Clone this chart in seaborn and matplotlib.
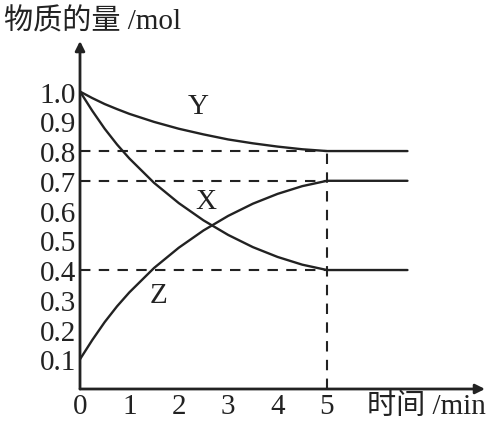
import numpy as np
import pandas as pd
import matplotlib
matplotlib.use('Agg')
import matplotlib.pyplot as plt
import seaborn as sns

# data (amount of substance, mol)
time_min = [0, 0.25, 0.5, 0.75, 1, 1.5, 2, 2.5, 3, 3.5, 4, 4.5, 5, 6.63]
y_mol = [1.0, 0.978, 0.958, 0.941, 0.925, 0.898, 0.875, 0.856, 0.839, 0.826, 0.815, 0.806, 0.80, 0.80]
x_mol = [1.0, 0.935, 0.875, 0.822, 0.775, 0.693, 0.625, 0.567, 0.518, 0.477, 0.444, 0.418, 0.40, 0.40]
z_mol = [0.1, 0.165, 0.225, 0.278, 0.325, 0.407, 0.475, 0.533, 0.582, 0.623, 0.656, 0.682, 0.70, 0.70]
guide_levels = [0.8, 0.7, 0.4]
x_ticks = [0, 1, 2, 3, 4, 5]
y_ticks = [0.1, 0.2, 0.3, 0.4, 0.5, 0.6, 0.7, 0.8, 0.9, 1.0]

sns.set_style('white')
plt.rcParams['font.family'] = ['Liberation Serif', 'Noto Sans CJK SC']

df = pd.DataFrame({'t': time_min * 3,
                   'n': y_mol + x_mol + z_mol,
                   'name': ['Y'] * len(time_min) + ['X'] * len(time_min) + ['Z'] * len(time_min)})

fig = plt.figure(figsize=(4.86, 4.27), dpi=100)
ax = fig.add_axes([80 / 486, 37 / 427, 405 / 486, 348 / 427])

sns.lineplot(data=df, x='t', y='n', units='name', estimator=None,
             color='#222222', linewidth=1.7, ax=ax, legend=False)

# dashed guide lines
for lv in guide_levels:
    ax.plot([0, 5], [lv, lv], color='#222222', linewidth=1.5, dashes=(5, 4))
ax.plot([5, 5], [0, 0.8], color='#222222', linewidth=1.5, dashes=(5, 4))

ax.set_xlim(0, 8.2)
ax.set_ylim(0, 1.17)
for s in ax.spines.values():
    s.set_visible(False)

# axes with arrows
for end in [(8.2, 0), (0, 1.17)]:
    ax.annotate('', xy=end, xytext=(0, 0), annotation_clip=False,
                arrowprops=dict(arrowstyle='-|>', color='#222222', lw=2.0, mutation_scale=14,
                                shrinkA=0, shrinkB=0))

ax.set_xticks(x_ticks)
ax.set_yticks(y_ticks)
ax.set_xticklabels([str(v) for v in x_ticks])
ax.set_yticklabels(['%.1f' % v for v in y_ticks])
ax.tick_params(direction='in', length=5, width=1.4, color='#222222',
               labelsize=21, labelcolor='#222222', pad=3)
ax.set_xlabel('')
ax.set_ylabel('')

# curve labels
ax.text(2.39, 0.953, 'Y', fontsize=21, ha='center', va='center', color='#222222')
ax.text(2.54, 0.633, 'X', fontsize=21, ha='center', va='center', color='#222222')
ax.text(1.59, 0.316, 'Z', fontsize=21, ha='center', va='center', color='#222222')

fig.text(4 / 486, 1 - 22 / 427, '物质的量 /mol', fontsize=21, ha='left', va='center', color='#222222')
fig.text(486 / 486, 1 - 407 / 427, '时间 /min', fontsize=21, ha='right', va='center', color='#222222')

fig.savefig('out.png', dpi=100)
